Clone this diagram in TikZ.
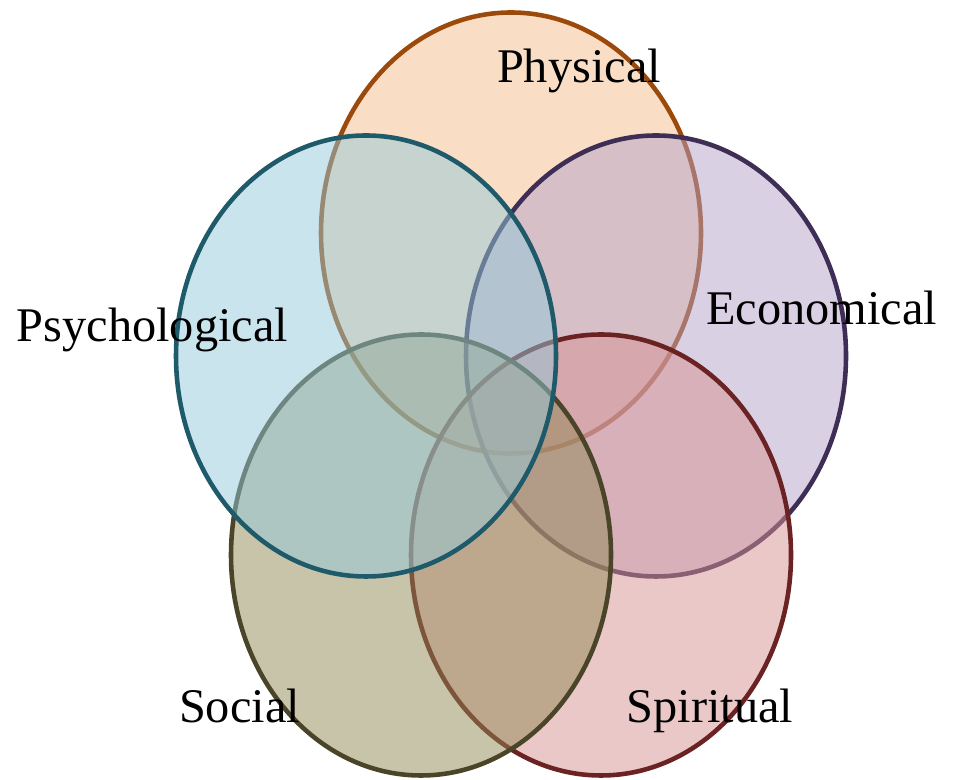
\documentclass[tikz,border=0pt]{standalone}
\usepackage{fontspec}
\setmainfont{Liberation Serif}
\usepackage{xcolor}
\usepackage{tikz}
\usetikzlibrary{shapes.geometric}
\definecolor{physfill}{RGB}{243,189,139}
\definecolor{physline}{RGB}{156,74,12}
\definecolor{econfill}{RGB}{179,161,201}
\definecolor{econline}{RGB}{62,46,85}
\definecolor{spirfill}{RGB}{215,145,145}
\definecolor{spirline}{RGB}{106,34,34}
\definecolor{socfill}{RGB}{145,137,85}
\definecolor{socline}{RGB}{74,68,40}
\definecolor{psyfill}{RGB}{147,201,217}
\definecolor{psyline}{RGB}{31,90,106}
\tikzstyle{area} = [ellipse, minimum width=7.6cm, minimum height=8.82cm, inner sep=0pt, line width=2.6pt, fill opacity=0.5]
\tikzstyle{areatext} = [anchor=base, font=\fontsize{27.5}{32}\selectfont, text=black]

\begin{document}
\begin{tikzpicture}

\useasboundingbox (0,0) rectangle (19.06,15.6);

\node (physical) [area, draw=physline, fill=physfill] at (10.22,10.94) {};
\node (economical) [area, draw=econline, fill=econfill] at (13.12,8.48) {};
\node (spiritual) [area, draw=spirline, fill=spirfill] at (12.02,4.50) {};
\node (social) [area, draw=socline, fill=socfill] at (8.42,4.50) {};
\node (psychological) [area, draw=psyline, fill=psyfill] at (7.32,8.48) {};

\node (physlabel) [areatext] at (11.58,13.94) {Physical};
\node (psylabel) [areatext] at (3.05,8.76) {Psychological};
\node (econlabel) [areatext] at (16.43,9.10) {Economical};
\node (soclabel) [areatext] at (4.79,1.14) {Social};
\node (spirlabel) [areatext] at (14.20,1.14) {Spiritual};

\end{tikzpicture}
\end{document}
